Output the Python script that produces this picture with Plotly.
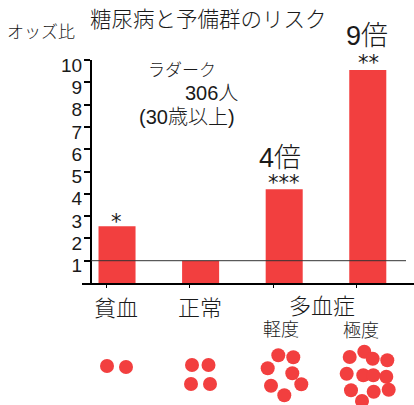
import plotly.graph_objects as go

W, H = 414, 405
FONT = "Liberation Sans, Noto Sans CJK JP"
RED = "#F23F3F"
INK = "#1a1a1a"

# --- data -------------------------------------------------------------
bar_slots = [0, 1, 2, 3]
odds_ratio = [2.55, 1.0, 4.2, 9.55]
tick_slots = [-0.13, 0.87, 1.87, 2.87]
y_ticks = [1, 2, 3, 4, 5, 6, 7, 8, 9, 10]
x_range = [-0.419, 3.553]
bar_width = 0.443

dots_x = [107, 126, 192, 208.5, 191, 210,
          278.3, 293.3, 267.7, 292.3, 271, 301.3, 284.3,
          349.7, 364.3, 372.7, 387.3, 346.7, 363.3, 373.3, 386.3, 351, 373.7, 388.7, 362]
dots_y = [366, 367, 365, 365, 384, 384,
          355.3, 357.3, 368.3, 373.3, 385.7, 384.3, 395.3,
          357, 351.7, 358.7, 360.3, 373.7, 375.3, 375.3, 376.7, 390.3, 391.7, 389.7, 401]

# text, centre x px, centre y px, font px
labels = [
    ("糖尿病と予備群のリスク", 208.5, 20, 21.5),
    ("オッズ比", 41, 32, 17),
    ("ラダーク", 182, 70, 17),
    ("306人", 211, 93, 20),
    ("(30歳以上)", 187, 117, 20),
    ("4倍", 280, 158, 27),
    ("9倍", 367, 36, 27),
    ("貧血", 116, 308, 22),
    ("正常", 200, 308, 22),
    ("多血症", 322, 306, 22),
    ("軽度", 281, 330, 18),
    ("極度", 361, 331, 18),
]
stars = [("***", 284, 183), ("**", 368, 63), ("*", 116, 222)]

fig = go.Figure()
fig.add_bar(x=bar_slots, y=odds_ratio, width=bar_width, marker=dict(color=RED, line_width=0))
fig.add_scatter(x=dots_x, y=dots_y, xaxis="x2", yaxis="y2", mode="markers",
                marker=dict(color=RED, size=14, line_width=0))

fig.add_shape(type="line", xref="paper", yref="y", x0=91 / W, x1=406 / W, y0=1, y1=1,
              line=dict(color="#333333", width=1), layer="above")

for text, cx, cy, size in labels:
    fig.add_annotation(text=text, x=cx / W, y=1 - cy / H, xref="paper", yref="paper",
                       xanchor="center", yanchor="middle", showarrow=False,
                       font=dict(family=FONT, size=size, color=INK, weight=300))
for text, cx, cy in stars:
    fig.add_annotation(text=text, x=cx / W, y=1 - cy / H, xref="paper", yref="paper",
                       xanchor="center", yanchor="middle", showarrow=False,
                       font=dict(family="DejaVu Sans", size=21, color=INK))

fig.update_layout(
    width=W, height=H, autosize=False, showlegend=False,
    margin=dict(l=0, r=0, t=0, b=0, autoexpand=False),
    paper_bgcolor="white", plot_bgcolor="rgba(0,0,0,0)",
    font=dict(family=FONT, color=INK),
    xaxis=dict(domain=[82 / W, 1], range=x_range, tickmode="array", tickvals=tick_slots,
               ticktext=["", "", "", ""], ticks="outside", ticklen=3, tickwidth=1,
               tickcolor="black", showline=True, linecolor="black", linewidth=2,
               showgrid=False, zeroline=False, fixedrange=True, automargin=False),
    yaxis=dict(domain=[(H - 283) / H, (H - 60) / H], range=[0, 10], tickmode="array",
               tickvals=y_ticks, ticks="outside", ticklen=6, tickwidth=2, tickcolor="black",
               showline=True, linecolor="black", linewidth=2, showgrid=False, zeroline=False,
               anchor="free", position=91 / W, ticklabelshift=5, ticklabelstandoff=-2,
               tickfont=dict(family="Liberation Sans", size=19, color=INK), fixedrange=True,
               automargin=False),
    xaxis2=dict(domain=[0, 1], range=[0, W], anchor="y2", visible=False, fixedrange=True, automargin=False),
    yaxis2=dict(domain=[0, 1], range=[H, 0], anchor="x2", visible=False, fixedrange=True, automargin=False),
)
fig.write_html("out.html", config=dict(displayModeBar=False),
               post_script="document.body.style.margin='0';")
